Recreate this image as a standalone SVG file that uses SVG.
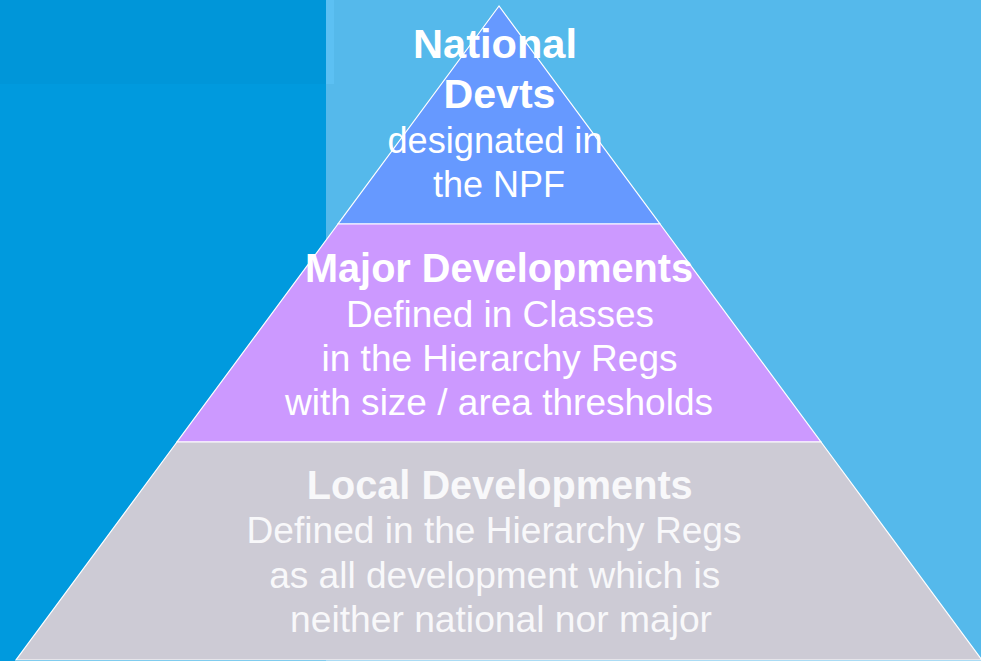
<svg xmlns="http://www.w3.org/2000/svg" width="981" height="661" viewBox="0 0 981 661">
  <style>
    .tier { stroke: #ffffff; stroke-width: 1.2; stroke-linejoin: miter; }
    .b { font-family: "Liberation Sans", Arial, sans-serif; font-weight: bold; font-size: 40px; fill: #ffffff; text-anchor: middle; }
    .r { font-family: "Liberation Sans", Arial, sans-serif; font-size: 36px; fill: #ffffff; text-anchor: middle; }
    .low { fill: #f8f8fa; }
  </style>
  <g id="background">
    <rect x="0" y="0" width="981" height="661" fill="#55b9eb"/>
    <rect x="0" y="0" width="326" height="661" fill="#009ade"/>
    <rect x="0" y="0" width="326" height="84" fill="#0096d9"/>
    <rect x="326" y="0" width="8" height="84" fill="#5cc0f3"/>
  </g>
  <g id="national">
    <polygon class="tier" points="499,6 338,224 660,224" fill="#6699ff"/>
    <text class="b" x="495" y="58" textLength="164" lengthAdjust="spacingAndGlyphs">National</text>
    <text class="b" x="499.5" y="108" textLength="112" lengthAdjust="spacingAndGlyphs">Devts</text>
    <text class="r" x="495" y="153" textLength="215" lengthAdjust="spacingAndGlyphs">designated in</text>
    <text class="r" x="499" y="197" textLength="132" lengthAdjust="spacingAndGlyphs">the NPF</text>
  </g>
  <g id="major">
    <polygon class="tier" points="338,224 660,224 821,442 177,442" fill="#cc99ff"/>
    <text class="b" x="499" y="282" textLength="388" lengthAdjust="spacingAndGlyphs">Major Developments</text>
    <text class="r" x="500" y="327" textLength="308" lengthAdjust="spacingAndGlyphs">Defined in Classes</text>
    <text class="r" x="499.5" y="371" textLength="356" lengthAdjust="spacingAndGlyphs">in the Hierarchy Regs</text>
    <text class="r" x="499" y="415" textLength="428" lengthAdjust="spacingAndGlyphs">with size / area thresholds</text>
  </g>
  <g id="local">
    <polygon class="tier" points="177,442 821,442 982,660 16,660" fill="#cdcbd5"/>
    <text class="b low" x="499.7" y="499" textLength="386" lengthAdjust="spacingAndGlyphs">Local Developments</text>
    <text class="r low" x="494" y="543" textLength="495" lengthAdjust="spacingAndGlyphs">Defined in the Hierarchy Regs</text>
    <text class="r low" x="494.7" y="588" textLength="451" lengthAdjust="spacingAndGlyphs">as all development which is</text>
    <text class="r low" x="501" y="632" textLength="422" lengthAdjust="spacingAndGlyphs">neither national nor major</text>
  </g>
</svg>
